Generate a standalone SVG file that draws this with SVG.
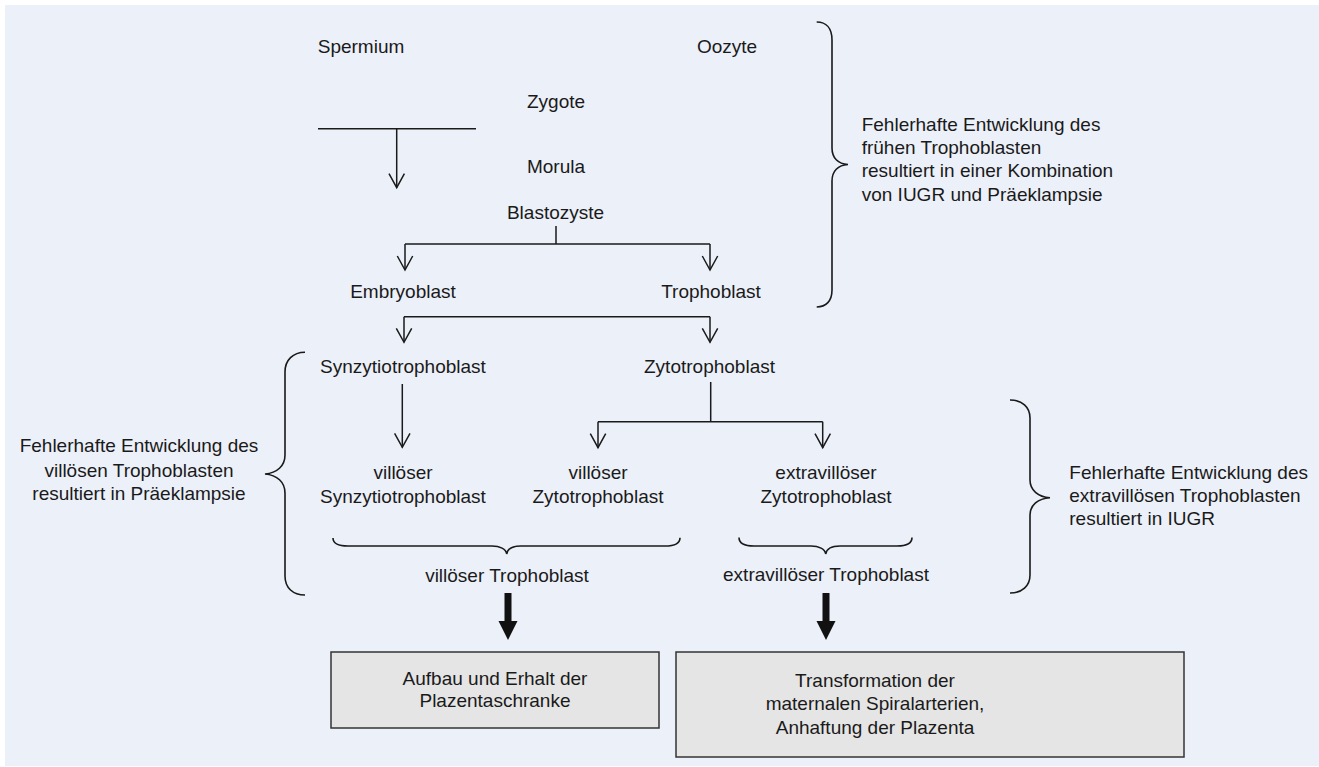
<svg xmlns="http://www.w3.org/2000/svg" width="1319" height="767" viewBox="0 0 1319 767">
<defs>
<style>
.t{font-family:"Liberation Sans",Arial,sans-serif;font-size:19px;fill:#1a1a1a}
.c{text-anchor:middle}
.ln{fill:none;stroke:#1a1a1a;stroke-width:1.5}
.br{fill:none;stroke:#1a1a1a;stroke-width:1.6}
.box{fill:#E5E5E5;stroke:#333;stroke-width:1.5}
</style>
<marker id="v" viewBox="-16 -9 18 18" markerWidth="18" markerHeight="18" refX="0" refY="0" orient="auto" markerUnits="userSpaceOnUse">
<path d="M-14,-7.7 L0,0 L-14,7.7" fill="none" stroke="#1a1a1a" stroke-width="1.5"/>
</marker>
</defs>
<rect x="5" y="5" width="1314" height="761" fill="#ECF0F9"/>

<g id="connectors">
<path class="ln" d="M318,128.7 H476"/>
<path class="ln" d="M396.7,128.7 V187.7" marker-end="url(#v)"/>
<path class="ln" d="M556,226 V244 M405,244 H710"/>
<path class="ln" d="M405,244 V270" marker-end="url(#v)"/>
<path class="ln" d="M710,244 V270" marker-end="url(#v)"/>
<path class="ln" d="M404,316.7 H710"/>
<path class="ln" d="M404,316.7 V342.3" marker-end="url(#v)"/>
<path class="ln" d="M710,316.7 V342.3" marker-end="url(#v)"/>
<path class="ln" d="M402.3,384 V447.3" marker-end="url(#v)"/>
<path class="ln" d="M710.7,382 V421.7 M598,421.7 H822.7"/>
<path class="ln" d="M598,421.7 V447.7" marker-end="url(#v)"/>
<path class="ln" d="M822.7,421.7 V447.7" marker-end="url(#v)"/>
<path d="M504.5,593 H511.5 V621 H517.5 L508,640 L498.5,621 H504.5 Z" fill="#111"/>
<path d="M822.5,593 H829.5 V621 H835.5 L826,640 L816.5,621 H822.5 Z" fill="#111"/>
</g>

<g id="braces">
<path class="br" d="M816.7,22 C826,22 832,28 832,40 L832,148 C832,158 838,164 848,164.5 C838,165 832,171 832,181 L832,290 C832,301 826,307 816.7,307"/>
<path class="br" d="M305,352.3 C293,352.3 285,360 285,372 L285,455 C285,466 277,473 265,474 C277,475 285,482 285,493 L285,576 C285,588 293,595 305,595"/>
<path class="br" d="M1010,400 C1022,400 1030,407 1030,418 L1030,480 C1030,490 1038,497 1050,497.7 C1038,498.5 1030,505 1030,515 L1030,575 C1030,586 1022,593 1010,593"/>
<path class="br" d="M333,538 C333,543 338,546 348,546 L492,546 C500,546 506,549 506.7,554 C507.5,549 513,546 521,546 L665,546 C675,546 680,543 680,537.7"/>
<path class="br" d="M739,537.5 C739,543 744,546 754,546 L811,546 C819,546 825,549 825.7,554 C826.5,549 832,546 840,546 L897,546 C907,546 912,543 912,537.5"/>
</g>

<g id="spermium"><text class="t c" x="361" y="53">Spermium</text></g>
<g id="oozyte"><text class="t c" x="727" y="52.5">Oozyte</text></g>
<g id="zygote"><text class="t c" x="556" y="108">Zygote</text></g>
<g id="morula"><text class="t c" x="556" y="173">Morula</text></g>
<g id="blastozyste"><text class="t c" x="555.5" y="219">Blastozyste</text></g>
<g id="embryoblast"><text class="t c" x="403" y="298">Embryoblast</text></g>
<g id="trophoblast"><text class="t c" x="711" y="298">Trophoblast</text></g>
<g id="synzytiotrophoblast"><text class="t c" x="403" y="373.3">Synzytiotrophoblast</text></g>
<g id="zytotrophoblast"><text class="t c" x="709.5" y="373">Zytotrophoblast</text></g>
<g id="villoeser-synzytio"><text class="t c" x="403" y="479.3">villöser</text><text class="t c" x="403" y="503.3">Synzytiotrophoblast</text></g>
<g id="villoeser-zyto"><text class="t c" x="598" y="479">villöser</text><text class="t c" x="598" y="502.7">Zytotrophoblast</text></g>
<g id="extravilloeser-zyto"><text class="t c" x="826" y="479">extravillöser</text><text class="t c" x="826" y="502.7">Zytotrophoblast</text></g>
<g id="villoeser-trophoblast"><text class="t c" x="507" y="581.7">villöser Trophoblast</text></g>
<g id="extravilloeser-trophoblast"><text class="t c" x="826" y="580.5">extravillöser Trophoblast</text></g>

<g id="note-early">
<text class="t" x="861.7" y="130.7">Fehlerhafte Entwicklung des</text>
<text class="t" x="861.7" y="154">frühen Trophoblasten</text>
<text class="t" x="861.7" y="177.3">resultiert in einer Kombination</text>
<text class="t" x="861.7" y="200.7">von IUGR und Präeklampsie</text>
</g>
<g id="note-villous">
<text class="t c" x="139" y="452.3">Fehlerhafte Entwicklung des</text>
<text class="t c" x="139" y="476.7">villösen Trophoblasten</text>
<text class="t c" x="139" y="500">resultiert in Präeklampsie</text>
</g>
<g id="note-extravillous">
<text class="t" x="1069.3" y="479">Fehlerhafte Entwicklung des</text>
<text class="t" x="1069.3" y="501.7">extravillösen Trophoblasten</text>
<text class="t" x="1069.3" y="525">resultiert in IUGR</text>
</g>

<g id="box-plazentaschranke">
<rect class="box" x="331" y="652" width="328" height="76"/>
<text class="t c" x="495" y="685">Aufbau und Erhalt der</text>
<text class="t c" x="495" y="707">Plazentaschranke</text>
</g>
<g id="box-transformation">
<rect class="box" x="676" y="652" width="508" height="105"/>
<text class="t c" x="875" y="686.7">Transformation der</text>
<text class="t c" x="875" y="710.3">maternalen Spiralarterien,</text>
<text class="t c" x="875" y="733.7">Anhaftung der Plazenta</text>
</g>
</svg>
